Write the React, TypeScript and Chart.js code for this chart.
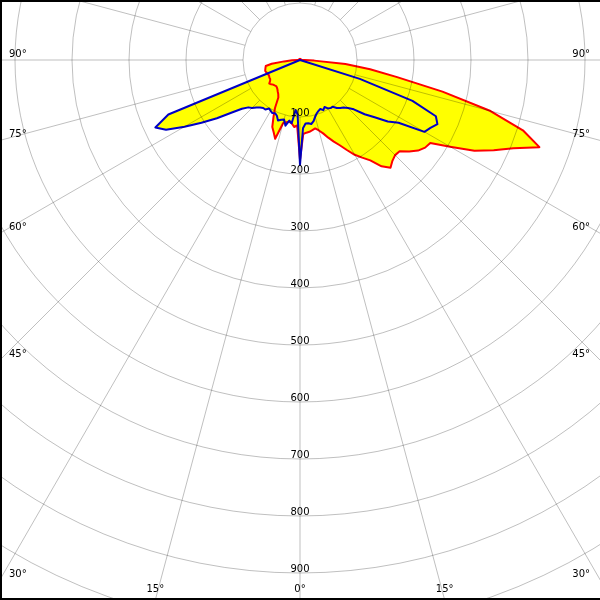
import React, { useEffect, useRef } from "react";
import { Chart, registerables } from "chart.js";

Chart.register(...registerables);

// Gamma angles (degrees from nadir) for each half plane, 0..180 in 2.5° steps
const gammaAngles: number[] = Array.from({ length: 73 }, (_, i) => i * 2.5);

// Intensity values (cd/klm) – left half plane (C180) and right half plane (C0)
const redLeft = [
  175, 115, 118, 112, 110, 112, 115, 145, 135, 127, 110, 95, 76, 71, 68, 65, 63, 62, 63, 64,
  66, 68, 64, 62, 62, 61, 61, 62, 63, 64, 63, 62, 61, 50, 28, 14, 4,
  2, 2, 2, 2, 2, 2, 2, 2, 2, 2, 2, 2, 2, 2, 2, 2, 2, 2, 2, 2, 2, 2, 2, 2, 2, 2, 2, 2, 2, 2, 2, 2, 2, 2, 2, 2,
];
const redRight = [
  175, 130, 128, 127, 125, 123, 128, 135, 145, 155, 165, 178, 192, 203, 215, 235, 247, 240, 236, 237,
  250, 261, 268, 271, 304, 345, 375, 405, 447, 410, 346, 256, 173, 124, 80, 25, 8,
  2, 2, 2, 2, 2, 2, 2, 2, 2, 2, 2, 2, 2, 2, 2, 2, 2, 2, 2, 2, 2, 2, 2, 2, 2, 2, 2, 2, 2, 2, 2, 2, 2, 2, 2, 2,
];
const blueLeft = [
  184, 96, 88, 112, 108, 118, 108, 110, 113, 106, 103, 105, 103, 101, 106, 106, 109, 113, 119, 123,
  133, 152, 178, 205, 234, 265, 280, 250, 0,
  0, 0, 0, 0, 0, 0, 0, 0, 0, 0, 0, 0, 0, 0, 0, 0, 0, 0, 0, 0, 0, 0, 0, 0, 0, 0, 0, 0, 0, 0, 0, 0, 0, 0, 0, 0, 0, 0, 0, 0, 0, 0, 0, 0,
];
const blueRight = [
  184, 120, 112, 112, 114, 110, 103, 98, 95, 93, 97, 93, 98, 100, 100, 106, 110, 113, 119, 128,
  148, 165, 188, 205, 252, 258, 266, 258, 210, 110, 0,
  0, 0, 0, 0, 0, 0, 0, 0, 0, 0, 0, 0, 0, 0, 0, 0, 0, 0, 0, 0, 0, 0, 0, 0, 0, 0, 0, 0, 0, 0, 0, 0, 0, 0, 0, 0, 0, 0, 0, 0, 0, 0,
];

// Ring tick labels and labelled gamma angles
const ringLabels = [100, 200, 300, 400, 500, 600, 700, 800, 900];
const degreeLabels = [0, 15, 30, 45, 60, 75, 90];

const SCALE_MAX = 1100;
const SPOKE_STEP_DEG = 15;
const SPOKE_FROM = 100;

// Layout: a large canvas whose polar centre lands at (300, 60) of a 600x600 view
const CANVAS = 1254;
const VIEW = 600;
const CENTER_X = 300;
const CENTER_Y = 60;
const OFF_X = CENTER_X - CANVAS / 2;
const OFF_Y = CENTER_Y - CANVAS / 2;

const GRID = "rgba(0,0,0,0.25)";
const FONT = '10px "DejaVu Sans"';

function fullCircle(left: number[], right: number[]): number[] {
  return left.concat(right.slice(1, left.length - 1).reverse());
}

const angleLabels: string[] = gammaAngles
  .map((g) => String(g))
  .concat(gammaAngles.slice(1, gammaAngles.length - 1).reverse().map((g) => String(360 - g)));

const STEP = 2.5;

const decorPlugin = {
  id: "polarDecor",
  afterDatasetsDraw(chart: any) {
    const s = chart.scales.r;
    const ctx = chart.ctx;
    const n = chart.data.labels.length;
    const every = Math.round(SPOKE_STEP_DEG / STEP);
    ctx.save();
    ctx.strokeStyle = GRID;
    ctx.lineWidth = 1;
    for (let i = 0; i < n; i += every) {
      const a = s.getPointPositionForValue(i, SPOKE_FROM);
      const b = s.getPointPositionForValue(i, s.max);
      ctx.beginPath();
      ctx.moveTo(a.x, a.y);
      ctx.lineTo(b.x, b.y);
      ctx.stroke();
    }
    ctx.restore();
  },
  afterDraw(chart: any) {
    const s = chart.scales.r;
    const ctx = chart.ctx;
    const n = chart.data.labels.length;
    ctx.save();
    ctx.font = FONT;
    ctx.fillStyle = "#000";
    ctx.textAlign = "center";
    ctx.textBaseline = "alphabetic";
    ringLabels.forEach((v) => {
      const d = s.getDistanceFromCenterForValue(v);
      ctx.fillText(String(v), s.xCenter, s.yCenter + d - 1);
    });
    // visible window in canvas coordinates
    const x0 = -OFF_X;
    const x1 = -OFF_X + VIEW;
    const y1 = -OFF_Y + VIEW;
    const done: Record<string, boolean> = {};
    degreeLabels.forEach((g) => {
      [1, -1].forEach((side) => {
        const idx = side === 1 ? Math.round(g / STEP) : (n - Math.round(g / STEP)) % n;
        if (done[idx]) return;
        done[idx] = true;
        const p = s.getPointPositionForValue(idx, s.max);
        const ux = (p.x - s.xCenter) / s.drawingArea;
        const uy = (p.y - s.yCenter) / s.drawingArea;
        const tx = ux < -1e-9 ? (x0 - s.xCenter) / ux : ux > 1e-9 ? (x1 - s.xCenter) / ux : Infinity;
        const ty = uy > 1e-9 ? (y1 - s.yCenter) / uy : Infinity;
        const text = g + "°";
        if (ty <= tx) {
          const ex = s.xCenter + ux * ty;
          ctx.textAlign = "center";
          ctx.fillText(text, ex, y1 - 8);
        } else {
          const ey = s.yCenter + uy * tx;
          if (ux < 0) {
            ctx.textAlign = "left";
            ctx.fillText(text, x0 + 9, ey - 3);
          } else {
            ctx.textAlign = "right";
            ctx.fillText(text, x1 - 10, ey - 3);
          }
        }
      });
    });
    ctx.restore();
  },
};

export default function App() {
  const canvasRef = useRef<HTMLCanvasElement | null>(null);

  useEffect(() => {
    document.body.style.margin = "0";
    const canvas = canvasRef.current;
    if (!canvas) return;
    const chart = new Chart(canvas, {
      type: "radar",
      data: {
        labels: angleLabels,
        datasets: [
          {
            label: "C90-C270",
            data: fullCircle(blueLeft, blueRight),
            borderColor: "#0000c8",
            backgroundColor: "#ffff00",
            borderWidth: 2,
            fill: true,
            pointRadius: 0,
            borderJoinStyle: "round",
          },
          {
            label: "C0-C180",
            data: fullCircle(redLeft, redRight),
            borderColor: "#ff0000",
            backgroundColor: "#ffff00",
            borderWidth: 2,
            fill: true,
            pointRadius: 0,
            borderJoinStyle: "round",
          },
        ],
      },
      options: {
        responsive: false,
        animation: false,
        events: [],
        layout: { padding: 0 },
        plugins: {
          legend: { display: false },
          tooltip: { enabled: false },
          filler: { drawTime: "beforeDatasetsDraw" },
        },
        scales: {
          r: {
            startAngle: 180,
            min: 0,
            max: SCALE_MAX,
            ticks: { display: false, stepSize: 100 },
            grid: { circular: true, color: GRID, lineWidth: 1, z: 1 },
            angleLines: { display: false },
            pointLabels: { display: false },
          },
        },
      } as any,
      plugins: [decorPlugin],
    });
    return () => chart.destroy();
  }, []);

  return (
    <div
      style={{
        position: "relative",
        width: VIEW,
        height: VIEW,
        overflow: "hidden",
        background: "#fff",
      }}
    >
      <canvas
        ref={canvasRef}
        width={CANVAS}
        height={CANVAS}
        style={{ position: "absolute", left: OFF_X, top: OFF_Y, width: CANVAS, height: CANVAS }}
      />
      <div
        style={{
          position: "absolute",
          left: 0,
          top: 0,
          width: VIEW,
          height: VIEW,
          boxSizing: "border-box",
          borderTop: "2px solid #000",
          borderLeft: "2px solid #000",
          borderBottom: "2px solid #000",
          pointerEvents: "none",
        }}
      />
    </div>
  );
}
